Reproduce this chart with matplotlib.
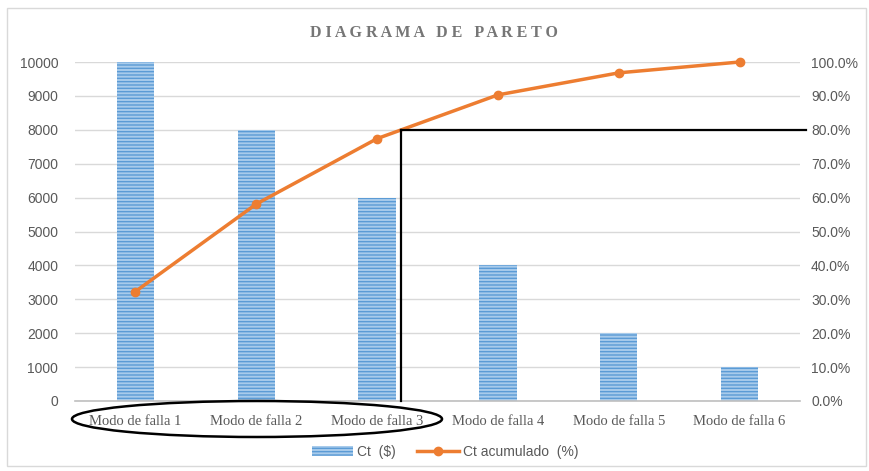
import matplotlib
matplotlib.use("Agg")
import matplotlib.pyplot as plt
from matplotlib.patches import Ellipse, Rectangle
from matplotlib.lines import Line2D
from matplotlib.ticker import FuncFormatter
import numpy as np

categories = ["Modo de falla 1", "Modo de falla 2", "Modo de falla 3",
              "Modo de falla 4", "Modo de falla 5", "Modo de falla 6"]
costs = [10000, 8000, 6000, 4000, 2000, 1000]
cum_pct = [0.323, 0.581, 0.774, 0.903, 0.968, 1.0]
left_ticks = [0, 1000, 2000, 3000, 4000, 5000, 6000, 7000, 8000, 9000, 10000]
right_ticks = [0.0, 0.1, 0.2, 0.3, 0.4, 0.5, 0.6, 0.7, 0.8, 0.9, 1.0]
cut_x = 2.2
cut_y = 0.8

W, H = 870, 471
fig = plt.figure(figsize=(W / 100, H / 100), dpi=100)
ax = fig.add_axes([75 / W, 1 - 401 / H, 725 / W, 339 / H])
ax2 = ax.twinx()

x = np.arange(len(categories))
ax.bar(x, costs, width=0.31, facecolor="#A8CBEB", edgecolor="#5B9BD5",
       hatch="-----", linewidth=0, zorder=2)
ax.set_xlim(-0.5, len(categories) - 0.5)
ax.set_ylim(0, 10000)
ax.set_yticks(left_ticks)
ax.grid(axis="y", color="#D9D9D9", linewidth=1, zorder=0)
ax.set_axisbelow(True)
ax.set_xticks(x)
ax.set_xticklabels(categories, fontfamily="Liberation Serif", fontsize=10.5, color="#595959")
for s in ["top", "right", "left"]:
    ax.spines[s].set_visible(False)
ax.spines["bottom"].set_color("#BFBFBF")
ax.spines["bottom"].set_linewidth(1.2)
ax.tick_params(axis="x", length=0, pad=10)
ax.tick_params(axis="y", length=0, labelsize=10, labelcolor="#595959", pad=12)
for lb in ax.get_yticklabels():
    lb.set_fontfamily("Liberation Sans")

ax2.plot(x, cum_pct, color="#ED7D31", linewidth=2.5, marker="o", markersize=6,
         zorder=5, clip_on=False)
ax2.set_ylim(0, 1)
ax2.set_yticks(right_ticks)
ax2.yaxis.set_major_formatter(FuncFormatter(lambda v, p: f"{v*100:.1f}%"))
for s in ["top", "right", "left", "bottom"]:
    ax2.spines[s].set_visible(False)
ax2.tick_params(axis="y", length=0, labelsize=10, labelcolor="#595959", pad=8)
for lb in ax2.get_yticklabels():
    lb.set_fontfamily("Liberation Sans")

# 80% cut lines
ax2.plot([cut_x, cut_x], [0, cut_y], color="black", linewidth=1.6, zorder=6, clip_on=False)
ax2.plot([cut_x, 5.55], [cut_y, cut_y], color="black", linewidth=1.6, zorder=6, clip_on=False)

# Ellipse around the first three categories (figure pixel coords)
ell = Ellipse((257 / W, 1 - 419 / H), 370 / W, 36 / H, transform=fig.transFigure,
              fill=False, edgecolor="black", linewidth=1.8)
fig.patches.append(ell)

# Chart border
fig.patches.append(Rectangle((7 / W, 5 / H), 859 / W, 1 - 13 / H, transform=fig.transFigure,
                             fill=False, edgecolor="#D9D9D9", linewidth=1))

fig.text(434 / W, 1 - 33 / H, "D I A G R A M A   D E   P A R E T O", ha="center", va="center",
         fontfamily="Liberation Serif", fontweight="bold", fontsize=11.5, color="#767676")

handles = [Rectangle((0, 0), 1, 1, facecolor="#A8CBEB", edgecolor="#5B9BD5", hatch="-----", linewidth=0),
           Line2D([0], [0], color="#ED7D31", linewidth=2.5, marker="o", markersize=6)]
fig.legend(handles, ["Ct  ($)", "Ct acumulado  (%)"], loc="center",
           bbox_to_anchor=(445 / W, 1 - 452 / H), ncol=2, frameon=False,
           prop={"family": "Liberation Sans", "size": 10}, labelcolor="#595959",
           handlelength=3, columnspacing=1.5, handletextpad=0.3)

fig.savefig("out.png", dpi=100)
